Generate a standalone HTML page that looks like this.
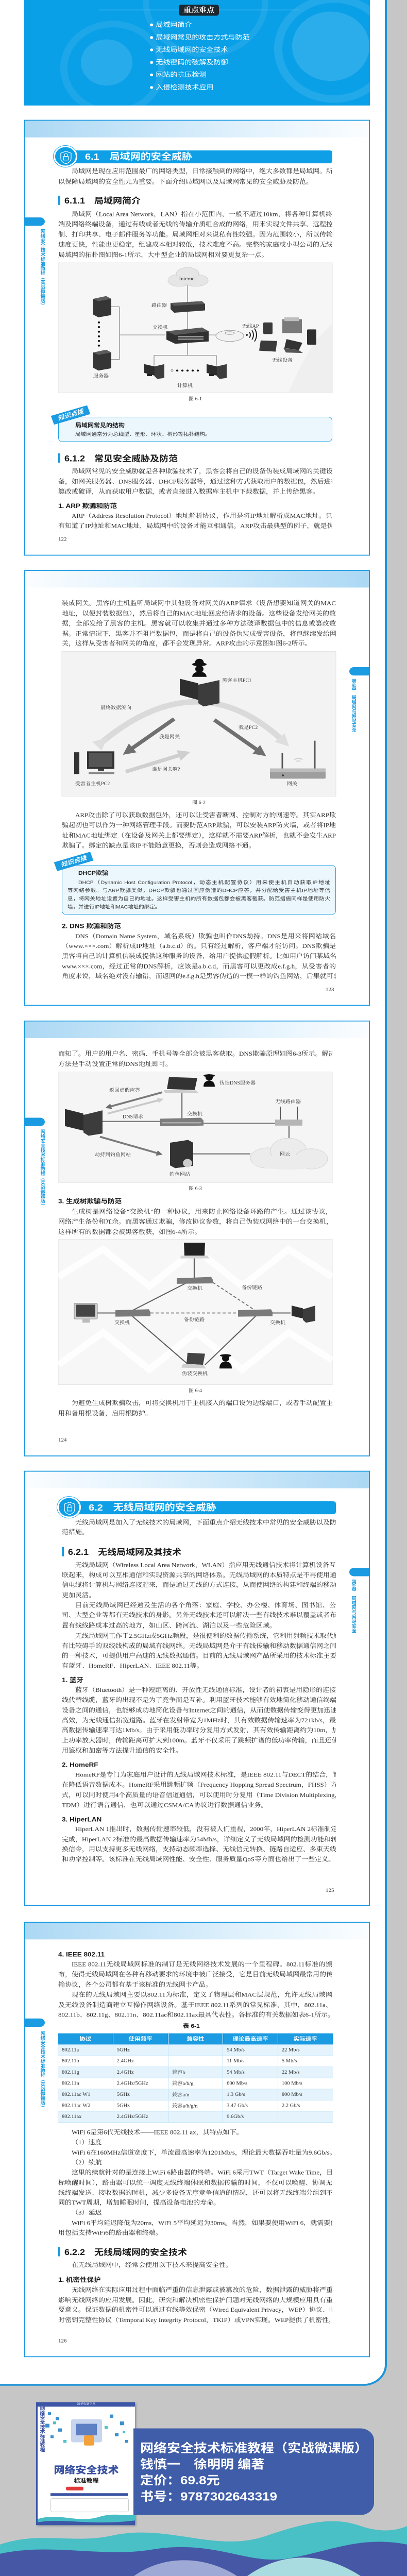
<!DOCTYPE html>
<html lang="zh"><head><meta charset="utf-8">
<style>
*{margin:0;padding:0;box-sizing:content-box}
html,body{width:790px;height:100%;overflow:hidden;background:#c6c6c6}
#wrap{position:absolute;left:0;top:0;width:790px;height:5568px;overflow:hidden;background:#c6c6c6;font-family:"Liberation Serif","Noto Serif CJK SC",serif;color:#2a2a2a;transform-origin:0 0}
.card{position:absolute;left:0;top:0;width:747px;height:5153px;background:#fff;border-right:4px solid #1b93d8;border-bottom:4px solid #1b93d8;border-bottom-right-radius:46px}
.pg{position:absolute;left:47px;width:667px;border:2px solid #1b9be1;background:#fff}
.bandL{position:absolute;left:0;top:0;width:667px;height:36px;background:linear-gradient(90deg,#acd8f4,#e6f4fd 70%,#fbfdff)}
.bandR{position:absolute;left:0;top:0;width:667px;height:36px;background:linear-gradient(90deg,#fbfdff,#e6f4fd 30%,#acd8f4)}
.l{position:absolute;width:532px;height:22px;line-height:22px;font-size:13px;text-align:justify;text-align-last:justify;white-space:nowrap;overflow:hidden}
.L{left:113px}.R{left:120px}
.i{padding-left:26px;width:506px}
.e{text-align-last:left}
.h2{position:absolute;font-family:"Liberation Sans","Noto Sans CJK SC",sans-serif;font-weight:bold;font-size:18px;line-height:22px;color:#1a1a1a;padding-left:8px;border-left:4px solid #1b9be1;height:20px;white-space:nowrap}
.h3{position:absolute;font-family:"Liberation Sans","Noto Sans CJK SC",sans-serif;font-weight:bold;font-size:13.5px;line-height:20px;color:#1a1a1a;white-space:nowrap}
.pn{position:absolute;font-size:11px;color:#333}
.cap{position:absolute;font-size:10px;color:#333;width:80px;text-align:center}
.tabL{position:absolute;left:47px;width:40px;height:18px;background:#1b9be1;border-radius:0 9px 9px 0}
.tabR{position:absolute;left:678px;width:38px;height:18px;background:#1b9be1;border-radius:9px 0 0 9px}
.vt{position:absolute;width:12px;height:180px;overflow:hidden;writing-mode:vertical-rl;font-family:"Liberation Sans","Noto Sans CJK SC",sans-serif;font-size:10px;line-height:12px;color:#1b9be1;font-weight:bold}
.sec{position:absolute;height:28px;background:#0f9fe6;border-radius:0 5px 5px 0;color:#fff;font-family:"Liberation Sans","Noto Sans CJK SC",sans-serif;font-weight:bold;font-size:20px;line-height:28px;white-space:nowrap}
.ico{position:absolute;width:40px;height:40px;border-radius:50%;background:#0f9fe6;border:3px solid #fff;box-shadow:0 0 0 1px #0f9fe6}
.tip{position:absolute;border:1.5px solid #22a2e8;border-radius:8px;background:#ebf6fd}
.tag{position:absolute;width:74px;height:20px;background:#1b9be1;color:#fff;font-family:"Liberation Sans","Noto Sans CJK SC",sans-serif;font-weight:bold;font-size:13px;line-height:20px;text-align:center;transform:rotate(-18deg);font-style:italic}
.tt{position:absolute;font-family:"Liberation Sans","Noto Sans CJK SC",sans-serif;font-weight:bold;font-size:12px;color:#1a1a1a}
.ts{position:absolute;font-family:"Liberation Sans","Noto Sans CJK SC",sans-serif;font-size:10.5px;line-height:18px;height:18px;white-space:nowrap;overflow:hidden;text-align:justify;text-align-last:justify;color:#333}
table{position:absolute;left:112px;top:4395px;width:533px;border-collapse:collapse;font-size:10.5px}
td,th{height:23px;padding:0 0 0 7px;text-align:left;border-left:1px solid #fff;border-bottom:1.5px solid #bfe3f8;width:99px}
th{background:#1b9be1;color:#fff;text-align:center;font-family:"Liberation Sans","Noto Sans CJK SC",sans-serif;font-size:11.5px;height:24px;padding:0;border-left:1px solid #fff}
tr.a td{background:#e4f3fc}
td{border-left:1px solid #bfe3f8}
</style></head><body><div id="wrap">
<div class="card"></div>

<div style="position:absolute;left:47px;top:0;width:671px;height:228px;background:#0aa0e8;overflow:hidden">
 <div style="position:absolute;left:70px;top:45px;width:176px;height:176px;border-radius:50%;border:14px solid rgba(255,255,255,0.08)"></div>
 <div style="position:absolute;left:110px;top:85px;width:100px;height:100px;border-radius:50%;background:rgba(255,255,255,0.12)"></div>
 <div style="position:absolute;left:485px;top:-10px;width:200px;height:200px;border-radius:50%;border:16px solid rgba(255,255,255,0.10)"></div>
 <div style="position:absolute;left:520px;top:25px;width:150px;height:150px;border-radius:50%;background:rgba(255,255,255,0.14)"></div>
 <div style="position:absolute;left:230px;top:-120px;width:220px;height:220px;border-radius:50%;border:12px solid rgba(255,255,255,0.08)"></div>
 <div style="position:absolute;left:145px;top:21px;width:388px;height:1px;background:rgba(255,255,255,0.6)"></div>
 <div style="position:absolute;left:300px;top:10px;width:78px;height:24px;background:#1c2730;border-radius:5px;color:#fff;font-family:'Noto Serif CJK SC',serif;font-weight:bold;font-size:15px;line-height:24px;text-align:center">重点难点</div>
 <div style="position:absolute;left:243px;top:40px;color:#fff;font-family:'Liberation Sans','Noto Sans CJK SC',sans-serif;font-size:14px;line-height:27px;white-space:nowrap">
 ● 局域网简介<br>● 局域网常见的攻击方式与防范<br>● 无线局域网的安全技术<br>● 无线密码的破解及防御<br>● 网站的抗压检测<br>● 入侵检测技术应用</div>
</div>

<!-- PAGE 122 -->
<div class="pg" style="top:259px;height:938px"><div class="bandL"></div></div>
<div class="tabL" style="top:470px"></div>
<div class="vt" style="left:75px;top:495px">网络安全技术标准教程（实战微课版）</div>
<div class="sec" style="left:143px;top:325px;width:502px;padding-left:12px;box-sizing:border-box"><span style="margin-left:10px">6.1　局域网的安全威胁</span></div>
<div class="ico" style="left:104px;top:315px"></div>
<svg style="position:absolute;left:114px;top:322px" width="28" height="34"><path d="M14 5 L24 9 L24 20 Q24 28 14 32 Q4 28 4 20 L4 9 Z" fill="none" stroke="#fff" stroke-width="1.3"/><rect x="9.5" y="16" width="9" height="8" fill="none" stroke="#fff" stroke-width="1.2"/><path d="M11 16 V13 A3 3 0 0 1 17 13 V16" fill="none" stroke="#fff" stroke-width="1.2"/></svg>
<div class="l L i" style="top:359px">局域网是现在应用范围最广的网络类型，日常接触到的网络中，绝大多数都是局域网。所</div>
<div class="l L e" style="top:382px">以保障局域网的安全性尤为重要。下面介绍局域网以及局域网常见的安全威胁及防范。</div>
<div class="h2" style="left:113px;top:423px">6.1.1　局域网简介</div>
<div class="l L i" style="top:452px">局域网（Local Area Network，LAN）指在小范围内，一般不超过10km，将各种计算机终</div>
<div class="l L" style="top:474px">端及网络终端设备，通过有线或者无线的传输介质组合成的网络，用来实现文件共享、远程控</div>
<div class="l L" style="top:496px">制、打印共享、电子邮件服务等功能。局域网相对来说私有性较强。因为范围较小，所以传输</div>
<div class="l L" style="top:518px">速度更快，性能也更稳定，组建成本相对较低，技术难度不高。完整的家庭或小型公司的无线</div>
<div class="l L e" style="top:540px">局域网的拓扑图如图6-1所示，大中型企业的局域网相对要更复杂一点。</div>
<div class="cap" style="left:339px;top:853px">图 6-1</div>
<div class="tip" style="left:113px;top:901px;width:530px;height:52px"></div>
<div class="tag" style="left:100px;top:887px">知识点拨</div>
<div class="tt" style="left:146px;top:910px">局域网常见的结构</div>
<div class="ts" style="left:146px;top:930px;width:400px;text-align-last:left">局域网通常分为总线型、星形、环状、树形等拓扑结构。</div>
<div class="h2" style="left:113px;top:980px">6.1.2　常见安全威胁及防范</div>
<div class="l L i" style="top:1008px">局域网常见的安全威胁就是各种欺骗技术了，黑客会将自己的设备伪装成局域网的关键设</div>
<div class="l L" style="top:1030px">备，如网关服务器、DNS服务器、DHCP服务器等，通过这种方式获取用户的数据包，然后进行</div>
<div class="l L e" style="top:1052px">篡改或破译，从而获取用户数据，或者直接进入数据库主机中下载数据，并上传给黑客。</div>
<div class="h3" style="left:113px;top:1084px">1. ARP 欺骗和防范</div>
<div class="l L i" style="top:1104px">ARP（Address Resolution Protocol）地址解析协议，作用是将IP地址解析成MAC地址。只</div>
<div class="l L" style="top:1126px">有知道了IP地址和MAC地址，局域网中的设备才能互相通信。ARP攻击最典型的例子，就是伪</div>
<div class="pn" style="left:113px;top:1160px">122</div>

<!-- PAGE 123 -->
<div class="pg" style="top:1232px;height:938px"><div class="bandR"></div></div>
<div class="tabR" style="top:1442px"></div>
<div class="vt" style="left:679px;top:1467px">第6章　局域网与网站安全</div>
<div class="l R" style="top:1293px">装成网关。黑客的主机监听局域网中其他设备对网关的ARP请求（设备想要知道网关的MAC</div>
<div class="l R" style="top:1315px">地址，以便封装数据包），然后将自己的MAC地址回应给请求的设备。这些设备发给网关的数</div>
<div class="l R" style="top:1337px">据，全部发给了黑客的主机。黑客就可以收集并通过多种方法破译数据包中的信息或篡改数</div>
<div class="l R" style="top:1359px">据。正常情况下，黑客并不阻拦数据包，而是将自己的设备伪装成受害设备，将包继续发给网</div>
<div class="l R e" style="top:1380px">关，这样从受害者和网关的角度，都不会发现异常。ARP攻击的示意图如图6-2所示。</div>
<div class="cap" style="left:346px;top:1726px">图 6-2</div>
<div class="l R i" style="top:1751px">ARP攻击除了可以获取数据包外，还可以让受害者断网、控制对方的网速等。其实ARP欺</div>
<div class="l R" style="top:1773px">骗起初也可以作为一种网络管理手段。而要防范ARP欺骗，可以安装ARP防火墙，或者将IP地</div>
<div class="l R" style="top:1795px">址和MAC地址绑定（在设备及网关上都要绑定），这样就不需要ARP解析，也就不会发生ARP</div>
<div class="l R e" style="top:1817px">欺骗了。绑定的缺点是该IP不能随意更换，否则会造成网络不通。</div>
<div class="tip" style="left:120px;top:1870px;width:530px;height:105px"></div>
<div class="tag" style="left:106px;top:1852px">知识点拨</div>
<div class="tt" style="left:152px;top:1878px">DHCP欺骗</div>
<div class="ts" style="left:152px;top:1899px;width:489px">DHCP（Dynamic Host Configuration Protocol，动态主机配置协议）用来使主机自动获取IP地址</div>
<div class="ts" style="left:131px;top:1916px;width:510px">等网络参数。与ARP欺骗类似，DHCP欺骗也通过回应伪造的DHCP应答，并分配给受害主机IP地址等信</div>
<div class="ts" style="left:131px;top:1934px;width:510px">息，将网关地址设置为自己的地址。这样受害主机的所有数据包都会被黑客截获。防范措施同样是使用防火</div>
<div class="ts" style="left:131px;top:1952px;width:510px;text-align-last:left">墙，并进行IP地址和MAC地址的绑定。</div>
<div class="h3" style="left:120px;top:1992px">2. DNS 欺骗和防范</div>
<div class="l R i" style="top:2013px">DNS（Domain Name System，域名系统）欺骗也叫作DNS劫持。DNS是用来将网站域名</div>
<div class="l R" style="top:2034px">（www.×××.com）解析成IP地址（a.b.c.d）的。只有经过解析，客户端才能访问。DNS欺骗是</div>
<div class="l R" style="top:2056px">黑客将自己的计算机伪装成提供这种服务的设备，给用户提供虚假解析。比如用户访问某域名</div>
<div class="l R" style="top:2078px">www.×××.com，经过正常的DNS解析，应该是a.b.c.d，而黑客可以更改成e.f.g.h，从受害者的</div>
<div class="l R" style="top:2099px">角度来说，域名绝对没有输错，而返回的e.f.g.h是黑客伪造的一模一样的钓鱼网站，后果就可想</div>
<div class="pn" style="left:632px;top:2133px">123</div>

<!-- PAGE 124 -->
<div class="pg" style="top:2206px;height:938px"><div class="bandL"></div></div>
<div class="tabL" style="top:2416px"></div>
<div class="vt" style="left:75px;top:2441px">网络安全技术标准教程（实战微课版）</div>
<div class="l L" style="top:2267px">而知了。用户的用户名、密码、手机号等全部会被黑客获取。DNS欺骗原理如图6-3所示。解决</div>
<div class="l L e" style="top:2289px">方法是手动设置正常的DNS地址即可。</div>
<div class="cap" style="left:339px;top:2560px">图 6-3</div>
<div class="h3" style="left:113px;top:2587px">3. 生成树欺骗与防范</div>
<div class="l L i" style="top:2608px">生成树是网络设备“交换机”的一种协议，用来防止网络设备环路的产生。通过该协议，</div>
<div class="l L" style="top:2630px">网络产生备份和冗余。而黑客通过欺骗，修改协议参数，将自己伪装成网络中的一台交换机，</div>
<div class="l L e" style="top:2652px">这样所有的数据都会被黑客截获，如图6-4所示。</div>
<div class="cap" style="left:339px;top:2997px">图 6-4</div>
<div class="l L i" style="top:3022px">为避免生成树欺骗攻击，可将交换机用于主机接入的端口设为边缘端口，或者手动配置主</div>
<div class="l L e" style="top:3044px">用和备用根设备，启用根防护。</div>
<div class="pn" style="left:113px;top:3107px">124</div>

<!-- PAGE 125 -->
<div class="pg" style="top:3179px;height:937px"><div class="bandR"></div></div>
<div class="tabR" style="top:3389px"></div>
<div class="vt" style="left:679px;top:3414px">第6章　局域网与网站安全</div>
<div class="sec" style="left:150px;top:3245px;width:502px;padding-left:12px;box-sizing:border-box"><span style="margin-left:10px">6.2　无线局域网的安全威胁</span></div>
<div class="ico" style="left:111px;top:3235px"></div>
<svg style="position:absolute;left:121px;top:3242px" width="28" height="34"><path d="M14 5 L24 9 L24 20 Q24 28 14 32 Q4 28 4 20 L4 9 Z" fill="none" stroke="#fff" stroke-width="1.3"/><rect x="9.5" y="16" width="9" height="8" fill="none" stroke="#fff" stroke-width="1.2"/><path d="M11 16 V13 A3 3 0 0 1 17 13 V16" fill="none" stroke="#fff" stroke-width="1.2"/></svg>
<div class="l R i" style="top:3280px">无线局域网是加入了无线技术的局域网，下面重点介绍无线技术中常见的安全威胁以及防</div>
<div class="l R e" style="top:3301px">范措施。</div>
<div class="h2" style="left:120px;top:3344px">6.2.1　无线局域网及其技术</div>
<div class="l R i" style="top:3372px">无线局域网（Wireless Local Area Network，WLAN）指应用无线通信技术将计算机设备互</div>
<div class="l R" style="top:3394px">联起来，构成可以互相通信和实现资源共享的网络体系。无线局域网的本质特点是不再使用通</div>
<div class="l R" style="top:3415px">信电缆将计算机与网络连接起来，而是通过无线的方式连接，从而使网络的构建和终端的移动</div>
<div class="l R e" style="top:3437px">更加灵活。</div>
<div class="l R i" style="top:3459px">目前无线局域网已经遍及生活的各个角落：家庭、学校、办公楼、体育场、图书馆、公</div>
<div class="l R" style="top:3480px">司、大型企业等都有无线技术的身影。另外无线技术还可以解决一些有线技术难以覆盖或者布</div>
<div class="l R e" style="top:3503px">置有线线路成本过高的地方，如山区、跨河流、湖泊以及一些危险区域。</div>
<div class="l R i" style="top:3525px">无线局域网工作于2.5GHz或5GHz频段，是很便利的数据传输系统，它利用射频技术取代原</div>
<div class="l R" style="top:3547px">有比较碍手的双绞线构成的局域有线网络。无线局域网是介于有线传输和移动数据通信网之间</div>
<div class="l R" style="top:3568px">的一种技术，可提供用户高速的无线数据通信。目前的无线局域网产品所采用的技术标准主要</div>
<div class="l R e" style="top:3590px">有蓝牙、HomeRF、HiperLAN、IEEE 802.11等。</div>
<div class="h3" style="left:120px;top:3622px">1. 蓝牙</div>
<div class="l R i" style="top:3642px">蓝牙（Bluetooth）是一种短距离的、开放性无线通信标准，设计者的初衷是用隐形的连接</div>
<div class="l R" style="top:3664px">线代替线缆，蓝牙的出现不是为了竞争而是互补。利用蓝牙技术能够有效地简化移动通信终端</div>
<div class="l R" style="top:3686px">设备之间的通信，也能够成功地简化设备与Internet之间的通信，从而使数据传输变得更加迅速</div>
<div class="l R" style="top:3708px">高效，为无线通信拓宽道路。蓝牙在发射带宽为1MHz时，其有效数据传输速率为721kb/s，最</div>
<div class="l R" style="top:3729px">高数据传输速率可达1Mb/s。由于采用低功率时分复用方式发射，其有效传输距离约为10m，加</div>
<div class="l R" style="top:3751px">上功率放大器时，传输距离可扩大到100m。蓝牙不仅采用了跳频扩谱的低功率传输，而且还使</div>
<div class="l R e" style="top:3773px">用鉴权和加密等方法提升通信的安全性。</div>
<div class="h3" style="left:120px;top:3805px">2. HomeRF</div>
<div class="l R i" style="top:3825px">HomeRF是专门为家庭用户设计的无线局域网技术标准，是IEEE 802.11与DECT的结合，旨</div>
<div class="l R" style="top:3847px">在降低语音数据成本。HomeRF采用跳频扩频（Frequency Hopping Spread Spectrum，FHSS）方</div>
<div class="l R" style="top:3869px">式，可以同时使用4个高质量的语音信道通信，可以使用时分复用（Time Division Multiplexing，</div>
<div class="l R e" style="top:3891px">TDM）进行语音通信，也可以通过CSMA/CA协议进行数据通信业务。</div>
<div class="h3" style="left:120px;top:3923px">3. HiperLAN</div>
<div class="l R i" style="top:3943px">HiperLAN 1推出时，数据传输速率较低，没有被人们重视，2000年，HiperLAN 2标准制定</div>
<div class="l R" style="top:3965px">完成，HiperLAN 2标准的最高数据传输速率为54Mb/s，详细定义了无线局域网的检测功能和转</div>
<div class="l R" style="top:3986px">换信令，用以支持更多无线网络，支持动态频率选择、无线信元转换、链路自适应、多束天线</div>
<div class="l R e" style="top:4008px">和功率控制等。该标准在无线局域网性能、安全性、服务质量QoS等方面也给出了一些定义。</div>
<div class="pn" style="left:632px;top:4080px">125</div>

<!-- PAGE 126 -->
<div class="pg" style="top:4154px;height:937px"><div class="bandL"></div></div>
<div class="tabL" style="top:4363px"></div>
<div class="vt" style="left:75px;top:4390px">网络安全技术标准教程（实战微课版）</div>
<div class="h3" style="left:113px;top:4215px">4. IEEE 802.11</div>
<div class="l L i" style="top:4235px">IEEE 802.11无线局域网标准的制订是无线网络技术发展的一个里程碑。802.11标准的颁</div>
<div class="l L" style="top:4257px">布，使得无线局域网在各种有移动要求的环境中被广泛接受，它是目前无线局域网最常用的传</div>
<div class="l L e" style="top:4279px">输协议，各个公司都有基于该标准的无线网卡产品。</div>
<div class="l L i" style="top:4301px">现在的无线局域网主要以802.11为标准，定义了物理层和MAC层规范，允许无线局域网</div>
<div class="l L" style="top:4323px">及无线设备制造商建立互操作网络设备。基于IEEE 802.11系列的常见标准，其中，802.11a、</div>
<div class="l L" style="top:4344px">802.11b、802.11g、802.11n、802.11ac和802.11ax最具代表性。各标准的有关数据如表6-1所示。</div>
<div class="h3" style="left:355px;top:4369px;font-size:12px">表 6-1</div>
<table>
<tr><th>协议</th><th>使用频率</th><th>兼容性</th><th>理论最高速率</th><th>实际速率</th></tr>
<tr class="a"><td>802.11a</td><td>5GHz</td><td></td><td>54 Mb/s</td><td>22 Mb/s</td></tr>
<tr><td>802.11b</td><td>2.4GHz</td><td></td><td>11 Mb/s</td><td>5 Mb/s</td></tr>
<tr class="a"><td>802.11g</td><td>2.4GHz</td><td>兼容b</td><td>54 Mb/s</td><td>22 Mb/s</td></tr>
<tr><td>802.11n</td><td>2.4GHz/5GHz</td><td>兼容a/b/g</td><td>600 Mb/s</td><td>100 Mb/s</td></tr>
<tr class="a"><td>802.11ac W1</td><td>5GHz</td><td>兼容a/n</td><td>1.3 Gb/s</td><td>800 Mb/s</td></tr>
<tr><td>802.11ac W2</td><td>5GHz</td><td>兼容a/b/g/n</td><td>3.47 Gb/s</td><td>2.2 Gb/s</td></tr>
<tr class="a"><td>802.11ax</td><td>2.4GHz/5GHz</td><td></td><td>9.6Gb/s</td><td></td></tr>
</table>
<div class="l L i e" style="top:4598px">WiFi 6是第6代无线技术——IEEE 802.11 ax，其特点如下。</div>
<div class="l L i e" style="top:4620px">（1）速度</div>
<div class="l L i e" style="top:4642px">WiFi 6在160MHz信道宽度下，单流最高速率为1201Mb/s，理论最大数据吞吐量为9.6Gb/s。</div>
<div class="l L i e" style="top:4663px">（2）续航</div>
<div class="l L i" style="top:4685px">这里的续航针对的是连接上WiFi 6路由器的终端。WiFi 6采用TWT（Target Wake Time，目</div>
<div class="l L" style="top:4707px">标唤醒时间），路由器可以统一调度无线终端休眠和数据传输的时间，不仅可以唤醒、协调无</div>
<div class="l L" style="top:4729px">线终端发送、接收数据的时机，减少多设备无序竞争信道的情况，还可以将无线终端分组到不</div>
<div class="l L e" style="top:4750px">同的TWT周期，增加睡眠时间，提高设备电池的寿命。</div>
<div class="l L i e" style="top:4772px">（3）延迟</div>
<div class="l L i" style="top:4794px">WiFi 6平均延迟降低为20ms，WiFi 5平均延迟为30ms。当然，如果要使用WiFi 6，就需要使</div>
<div class="l L e" style="top:4815px">用包括支持WiFi6的路由器和终端。</div>
<div class="h2" style="left:113px;top:4857px">6.2.2　无线局域网的安全技术</div>
<div class="l L i e" style="top:4885px">在无线局域网中，经常会使用以下技术来提高安全性。</div>
<div class="h3" style="left:113px;top:4918px">1. 机密性保护</div>
<div class="l L i" style="top:4939px">无线网络在实际应用过程中面临严重的信息泄露或被篡改的危险，数据泄露的威胁将严重</div>
<div class="l L" style="top:4961px">影响无线网络的应用发展。因此，研究和解决机密性保护问题对无线网络的大规模应用具有重</div>
<div class="l L" style="top:4982px">要意义。保证数据的机密性可以通过有线等效保密（Wired Equivalent Privacy，WEP）协议、临</div>
<div class="l L" style="top:5004px">时密钥完整性协议（Temporal Key Integrity Protocol，TKIP）或VPN实现。WEP提供了机密性，</div>
<div class="pn" style="left:113px;top:5054px">126</div>

<!-- FIGURES -->
<svg style="position:absolute;left:0;top:0;display:block" width="790" height="5568" font-family="'Liberation Serif','Noto Serif CJK SC',serif">
<defs>
<marker id="ad" viewBox="0 0 10 10" refX="5" refY="5" markerWidth="3" markerHeight="3" orient="auto"><path d="M0 0 L10 5 L0 10 Z" fill="#6f6f6f"/></marker>
<marker id="al" viewBox="0 0 10 10" refX="5" refY="5" markerWidth="3" markerHeight="3" orient="auto"><path d="M0 0 L10 5 L0 10 Z" fill="#cfcfcf"/></marker>
<marker id="aw" viewBox="0 0 10 10" refX="5" refY="5" markerWidth="2.2" markerHeight="2.2" orient="auto"><path d="M0 0 L10 5 L0 10 Z" fill="#dedede"/></marker>
</defs>
<rect x="113" y="568" width="532" height="281" fill="#f6f6f6" stroke="#e2e2e2"/>
<path d="M560 849 Q600 740 645 700 L645 849 Z" fill="#efefef"/>
<g stroke="#8a8a8a" stroke-width="1.3" fill="none">
<line x1="364" y1="615" x2="364" y2="768"/><line x1="232" y1="724" x2="321" y2="724"/>
<line x1="232" y1="663" x2="232" y2="777"/><line x1="216" y1="663" x2="232" y2="663"/><line x1="216" y1="777" x2="232" y2="777"/>
<line x1="299" y1="768" x2="420" y2="768"/><line x1="299" y1="768" x2="299" y2="790"/><line x1="420" y1="768" x2="420" y2="790"/>
<line x1="405" y1="724" x2="420" y2="724"/></g>
<g fill="#e6e6e6" stroke="#cfcfcf"><ellipse cx="348" cy="606" rx="22" ry="13"/><ellipse cx="380" cy="606" rx="24" ry="13"/><ellipse cx="364" cy="592" rx="22" ry="14"/></g>
<ellipse cx="364" cy="604" rx="38" ry="9" fill="#e6e6e6"/>
<text x="364" y="606" font-size="10.5" text-anchor="middle" fill="#222">Internet</text>
<polygon points="331,655 392,651 398,657 398,671 338,676 331,668" fill="#393939"/><polygon points="331,655 392,651 398,657 338,661" fill="#5a5a5a"/>
<text x="309" y="663" font-size="10" text-anchor="middle" fill="#333">路由器</text>
<polygon points="323,716 392,708 405,716 405,738 340,743 323,734" fill="#303030"/><polygon points="323,716 392,708 405,716 340,724" fill="#585858"/>
<g fill="#bbb"><rect x="345" y="727" width="50" height="2"/><rect x="345" y="732" width="50" height="2"/></g>
<text x="311" y="711" font-size="10" text-anchor="middle" fill="#333">交换机</text>
<polygon points="181,646 206,640 216,646 216,681 191,686 181,680" fill="#353535"/><polygon points="181,646 206,640 216,646 191,651" fill="#5d5d5d"/>
<polygon points="181,762 206,756 216,762 216,796 191,801 181,795" fill="#353535"/><polygon points="181,762 206,756 216,762 191,767" fill="#5d5d5d"/>
<g fill="#111"><circle cx="192" cy="697" r="2.2"/><circle cx="192" cy="707" r="2.2"/><circle cx="192" cy="717" r="2.2"/><circle cx="192" cy="727" r="2.2"/><circle cx="192" cy="737" r="2.2"/><circle cx="192" cy="747" r="2.2"/></g>
<text x="196" y="816" font-size="10" text-anchor="middle" fill="#333">服务器</text>
<polygon points="280,787 300,792 300,812 280,806" fill="#2d2d2d"/><polygon points="300,792 319,787 319,817 305,819 300,813" fill="#3d3d3d"/><rect x="285" y="808" width="10" height="5" fill="#222"/>
<polygon points="401,787 421,792 421,812 401,806" fill="#2d2d2d"/><polygon points="421,792 440,787 440,817 426,819 421,813" fill="#3d3d3d"/><rect x="406" y="808" width="10" height="5" fill="#222"/>
<g fill="#111"><circle cx="334" cy="801" r="2" fill="none" stroke="#777"/><circle cx="344" cy="801" r="2.2"/><circle cx="354" cy="801" r="2.2"/><circle cx="364" cy="801" r="2.2"/><circle cx="374" cy="801" r="2.2"/><circle cx="384" cy="801" r="2.2"/></g>
<text x="359" y="837" font-size="10" text-anchor="middle" fill="#333">计算机</text>
<ellipse cx="446" cy="726" rx="27" ry="12" fill="#f2f2f2" stroke="#9a9a9a"/><ellipse cx="446" cy="720" rx="9" ry="3" fill="none" stroke="#999"/>
<g fill="none" stroke="#222" stroke-width="2"><path d="M484 718 Q488 724 484 730"/><path d="M489 714 Q495 724 489 734"/><path d="M494 710 Q502 724 494 738"/></g><circle cx="479" cy="724" r="2" fill="#222"/>
<text x="486" y="708" font-size="10" text-anchor="middle" fill="#333">无线AP</text>
<rect x="511" y="697" width="18" height="25" rx="2" fill="#3a3a3a"/>
<rect x="548" y="690" width="38" height="30" fill="#7a7a7a"/><rect x="552" y="686" width="28" height="8" fill="#bdbdbd"/>
<rect x="596" y="712" width="18" height="33" rx="2" fill="#2f2f2f"/>
<polygon points="506,736 538,737 535,760 503,758" fill="#3b3b3b"/>
<polygon points="556,733 587,741 580,757 552,752" fill="#333"/><polygon points="550,752 580,757 588,763 555,762" fill="#555"/>
<text x="548" y="782" font-size="10" text-anchor="middle" fill="#333">无线设备</text>

<rect x="120" y="1408" width="532" height="313" fill="#f3f3f3" stroke="#e2e2e2"/>
<path d="M198 1604 Q387 1430 552 1604" fill="none" stroke="#dadada" stroke-width="12" marker-start="url(#aw)" marker-end="url(#aw)"/>
<line x1="338" y1="1554" x2="248" y2="1624" stroke="#6f6f6f" stroke-width="8" marker-end="url(#ad)"/>
<line x1="416" y1="1556" x2="507" y2="1627" stroke="#6f6f6f" stroke-width="8" marker-end="url(#ad)"/>
<line x1="244" y1="1668" x2="358" y2="1629" stroke="#cfcfcf" stroke-width="8" marker-end="url(#al)"/>
<ellipse cx="387" cy="1436" rx="14" ry="4" fill="#111"/><path d="M378 1436 Q378 1424 387 1424 Q396 1424 396 1436 Z" fill="#111"/><circle cx="387" cy="1446" r="8" fill="#111"/><path d="M373 1463 Q374 1452 387 1452 Q400 1452 401 1463 Z" fill="#111"/>
<polygon points="349,1467 385,1477 385,1513 349,1502" fill="#2e2e2e"/><polygon points="385,1480 426,1470 426,1520 395,1527 385,1520" fill="#3c3c3c"/>
<text x="431" y="1474" font-size="10" fill="#333">黑客主机PC1</text>
<text x="195" y="1533" font-size="10" fill="#333">最终数据流向</text>
<text x="309" y="1596" font-size="10" fill="#333">我是网关</text>
<text x="463" y="1576" font-size="10" fill="#333">我是PC2</text>
<text x="295" y="1666" font-size="10" fill="#333">谁是网关啊?</text>
<rect x="144" y="1626" width="10" height="47" fill="#333"/><rect x="169" y="1624" width="53" height="38" fill="#333"/><rect x="173" y="1628" width="45" height="30" fill="#555"/><rect x="190" y="1662" width="12" height="5" fill="#444"/><rect x="172" y="1669" width="50" height="4" fill="#888"/>
<text x="146" y="1697" font-size="10" fill="#333">受害者主机PC2</text>
<line x1="548" y1="1628" x2="548" y2="1661" stroke="#555" stroke-width="3"/><line x1="611" y1="1601" x2="611" y2="1661" stroke="#555" stroke-width="3"/>
<rect x="524" y="1661" width="108" height="22" rx="2" fill="#9e9e9e"/><rect x="524" y="1661" width="108" height="8" fill="#bcbcbc"/><circle cx="549" cy="1676" r="2" fill="#333"/>
<path d="M571 1642 Q579 1636 587 1642" fill="none" stroke="#ccc" stroke-width="2"/><path d="M575 1646 Q579 1643 583 1646" fill="none" stroke="#ccc" stroke-width="2"/>
<text x="567" y="1697" font-size="10" text-anchor="middle" fill="#333">网关</text>

<rect x="113" y="2317" width="532" height="239" fill="#f5f5f5" stroke="#e2e2e2"/>
<g stroke="#7a7a7a" stroke-width="2.5"><line x1="353" y1="2361" x2="353" y2="2418"/><line x1="199" y1="2424" x2="311" y2="2424"/><line x1="395" y1="2428" x2="534" y2="2428"/><line x1="561" y1="2433" x2="561" y2="2462"/><line x1="375" y1="2494" x2="486" y2="2494"/></g>
<line x1="315" y1="2361" x2="210" y2="2393" stroke="#7a7a7a" stroke-width="4" marker-end="url(#ad)"/>
<line x1="209" y1="2407" x2="312" y2="2377" stroke="#c8c8c8" stroke-width="4" marker-end="url(#al)"/>
<line x1="194" y1="2457" x2="310" y2="2494" stroke="#7a7a7a" stroke-width="4" marker-end="url(#ad)"/>
<polygon points="328,2328 383,2330 378,2356 324,2354" fill="#333"/><polygon points="318,2356 380,2357 385,2362 320,2362" fill="#ccc"/>
<circle cx="406" cy="2329" r="7" fill="#111"/><path d="M395 2349 Q395 2336 406 2336 Q417 2336 417 2349 Z" fill="#111"/><ellipse cx="406" cy="2325" rx="11" ry="3" fill="#111"/>
<text x="426" y="2344" font-size="10" fill="#333">伪造DNS服务器</text>
<text x="212" y="2360" font-size="10" fill="#333">返回虚假应答</text>
<text x="238" y="2417" font-size="10" fill="#333">DNS请求</text>
<polygon points="311,2418 390,2416 395,2422 395,2433 311,2434" fill="#7d7d7d"/><rect x="315" y="2426" width="76" height="2" fill="#ccc"/>
<text x="378" y="2411" font-size="10" text-anchor="middle" fill="#333">交换机</text>
<polygon points="126,2397 162,2407 162,2444 126,2434" fill="#2e2e2e"/><polygon points="162,2410 199,2400 199,2450 172,2455 162,2448" fill="#3c3c3c"/>
<line x1="544" y1="2392" x2="544" y2="2420" stroke="#555" stroke-width="2"/><line x1="577" y1="2392" x2="577" y2="2420" stroke="#555" stroke-width="2"/><rect x="534" y="2420" width="53" height="13" fill="#b5b5b5"/>
<text x="534" y="2384" font-size="10" fill="#333">无线路由器</text>
<g fill="#ececec" stroke="#d2d2d2"><ellipse cx="520" cy="2503" rx="34" ry="22"/><ellipse cx="560" cy="2488" rx="35" ry="28"/><ellipse cx="604" cy="2505" rx="32" ry="22"/></g><ellipse cx="560" cy="2512" rx="70" ry="16" fill="#ececec"/>
<text x="553" y="2498" font-size="10" text-anchor="middle" fill="#333">网云</text>
<polygon points="330,2470 365,2464 375,2470 375,2520 340,2525 330,2519" fill="#333"/><circle cx="364" cy="2514" r="9" fill="#ccc"/>
<text x="349" y="2541" font-size="10" text-anchor="middle" fill="#333">钓鱼网站</text>
<text x="184" y="2499" font-size="10" fill="#333">劫持到钓鱼网站</text>

<rect x="113" y="2679" width="532" height="314" fill="#f7f7f7" stroke="#e2e2e2"/>
<g fill="none" stroke="#fff" stroke-width="14" opacity="0.8"><polyline points="113,2760 200,2700 290,2780 380,2700 470,2780 560,2700 645,2760"/><polyline points="113,2950 200,2880 290,2960 380,2880 470,2960 560,2880 645,2940"/></g>
<g stroke="#5e5e5e" stroke-width="2.2"><line x1="377" y1="2720" x2="377" y2="2762"/><line x1="360" y1="2774" x2="258" y2="2832"/><line x1="189" y1="2838" x2="224" y2="2838"/><line x1="529" y1="2838" x2="564" y2="2838"/><line x1="257" y1="2845" x2="368" y2="2952"/><line x1="496" y1="2845" x2="398" y2="2950"/></g>
<g stroke="#6e6e6e" stroke-width="2" stroke-dasharray="6,4"><line x1="292" y1="2838" x2="462" y2="2838"/><line x1="413" y1="2772" x2="496" y2="2833"/></g>
<polygon points="357,2686 398,2686 397,2714 358,2714" fill="#222"/><polygon points="352,2714 403,2714 406,2720 349,2720" fill="#d6d6d6"/>
<polygon points="343,2763 410,2760 413,2766 413,2774 343,2775" fill="#7a7a7a"/>
<polygon points="224,2832 289,2830 292,2836 292,2845 224,2846" fill="#7a7a7a"/>
<polygon points="462,2832 526,2830 529,2836 529,2845 462,2846" fill="#7a7a7a"/>
<text x="378" y="2788" font-size="10" text-anchor="middle" fill="#333">交换机</text>
<text x="469" y="2786" font-size="10" fill="#333">备份链路</text>
<text x="377" y="2856" font-size="10" text-anchor="middle" fill="#333">备份链路</text>
<text x="237" y="2862" font-size="10" text-anchor="middle" fill="#333">交换机</text>
<text x="539" y="2862" font-size="10" text-anchor="middle" fill="#333">交换机</text>
<rect x="144" y="2817" width="45" height="34" rx="2" fill="#cfcfcf" stroke="#888"/><rect x="148" y="2820" width="37" height="26" fill="#444"/><rect x="160" y="2851" width="14" height="8" fill="#bbb"/>
<polygon points="566,2822 588,2828 588,2850 566,2844" fill="#2e2e2e"/><polygon points="588,2830 612,2822 612,2855 594,2859 588,2853" fill="#3c3c3c"/>
<polygon points="364,2924 398,2926 394,2950 362,2948" fill="#444"/><polygon points="355,2948 395,2950 400,2958 352,2956" fill="#cfcfcf"/>
<circle cx="438" cy="2936" r="7" fill="#111"/><ellipse cx="438" cy="2930" rx="11" ry="3" fill="#111"/><path d="M426 2958 Q426 2943 438 2943 Q450 2943 450 2958 Z" fill="#111"/>
<text x="378" y="2972" font-size="10" text-anchor="middle" fill="#333">伪装交换机</text>

<path d="M0 5500 C80 5470 140 5500 220 5480 C330 5455 420 5520 520 5480 C600 5450 650 5440 700 5460 C740 5475 770 5470 790 5460 L790 5568 L0 5568 Z" fill="#49bfc6"/>
<path d="M0 5520 C100 5495 200 5530 300 5510 C420 5490 480 5545 560 5530 C640 5515 700 5480 790 5500 L790 5568 L0 5568 Z" fill="#4657a5"/>
<path d="M260 5568 C320 5520 400 5525 460 5568 Z" fill="#9fa9d6"/><path d="M480 5568 C540 5520 620 5510 700 5568 Z" fill="#a9dce0"/>
</svg>

<div style="position:absolute;left:70px;top:5192px;width:189px;height:266px;background:#fff;border-left:3px solid #3b55a6;box-shadow:2px 2px 4px rgba(0,0,0,0.3);overflow:hidden">
 <div style="height:10px;background:#3d56a6;color:#fff;font-size:6px;line-height:10px;text-align:center">清华电脑学堂</div>
 <svg width="189" height="110" style="position:absolute;left:0;top:12px">
  <g fill="#3a8fd0"><rect x="20" y="10" width="6" height="6"/><rect x="35" y="20" width="7" height="7"/><rect x="15" y="35" width="8" height="8"/><rect x="40" y="45" width="7" height="7"/><rect x="25" y="60" width="6" height="6"/><rect x="140" y="15" width="7" height="7"/><rect x="160" y="30" width="8" height="8"/><rect x="150" y="55" width="7" height="7"/><rect x="170" y="70" width="6" height="6"/></g>
  <g fill="#4cc3c4"><rect x="30" y="30" width="6" height="6"/><rect x="50" y="70" width="6" height="6"/><rect x="130" y="40" width="6" height="6"/><rect x="165" y="50" width="5" height="5"/></g>
  <rect x="65" y="25" width="60" height="50" rx="4" fill="#c7d6ee"/><rect x="75" y="35" width="40" height="25" fill="#5d7fc4"/><rect x="90" y="60" width="20" height="22" rx="3" fill="#f3a13a"/>
 </svg>
 <div style="position:absolute;left:5px;top:8px;width:12px;height:130px;overflow:hidden;writing-mode:vertical-rl;font-family:'Noto Sans CJK SC',sans-serif;font-weight:bold;font-size:10px;color:#3a52a3">网络安全技术标准教程</div>
 <div style="position:absolute;left:0;width:189px;top:133px;text-align:center;font-family:'Noto Sans CJK SC',sans-serif;font-weight:900;font-size:21px;line-height:26px;color:#3a52a3">网络安全技术</div>
 <div style="position:absolute;left:0;width:189px;top:162px;text-align:center;font-family:'Noto Sans CJK SC',sans-serif;font-weight:bold;font-size:12px;line-height:16px;color:#222">标准教程</div>
 <div style="position:absolute;left:55px;top:183px;width:34px;height:8px;background:#e23a3a;border-radius:3px"></div>
 <div style="position:absolute;left:25px;top:197px;width:150px;height:6px;background:#3a52a3"></div>
 <div style="position:absolute;left:25px;top:208px;width:150px;height:28px;border:1px solid #ccc;border-radius:4px"></div>
 <svg width="189" height="30" style="position:absolute;left:0;top:238px"><path d="M0 15 C40 0 80 25 120 10 C150 0 170 10 189 5 L189 30 L0 30 Z" fill="#47bec6"/><path d="M0 22 C50 12 100 30 189 18 L189 30 L0 30 Z" fill="#3d56a6"/></svg>
</div>
<div style="position:absolute;left:259px;top:5249px;width:467px;height:187px;background:#3f5da8;border-radius:0 26px 26px 0;color:#fff;font-family:'Liberation Sans','Noto Sans CJK SC',sans-serif;font-weight:bold;overflow:hidden">
 <div style="position:absolute;left:13px;top:25px;font-size:26px;line-height:35px;white-space:nowrap">网络安全技术标准教程（实战微课版）<br>钱慎一　徐明明 编著<br>定价：69.8元<br>书号：9787302643319</div>
</div>
</div>
<script>
(function(){var h=window.innerHeight||document.documentElement.clientHeight||5568;if(h>0&&Math.abs(h-5568)>2){var s=h/5568;document.getElementById('wrap').style.transform='scaleY('+s+')';}})();
</script>
</body></html>
